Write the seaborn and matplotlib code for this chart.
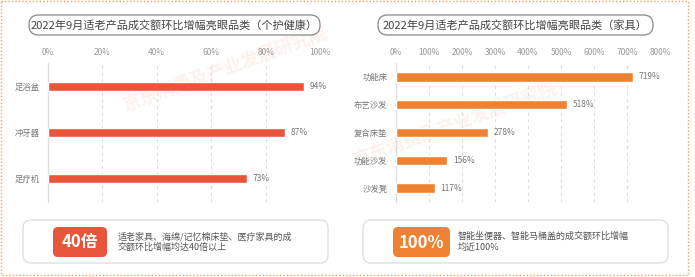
import matplotlib
matplotlib.use('Agg')
import matplotlib.pyplot as plt
import seaborn as sns
import pandas as pd
from matplotlib.patches import FancyBboxPatch, Rectangle

# datos
cat_izq = ['足浴盆', '冲牙器', '足疗机']
val_izq = [94, 87, 73]
cat_der = ['功能床', '布艺沙发', '复合床垫', '功能沙发', '沙发凳']
val_der = [719, 518, 278, 156, 117]

titulo_izq = '2022年9月适老产品成交额环比增幅亮眼品类（个护健康）'
titulo_der = '2022年9月适老产品成交额环比增幅亮眼品类（家具）'
badge_izq = '40倍'
badge_der = '100%'
texto_izq = ['适老家具、海绵/记忆棉床垫、医疗家具的成', '交额环比增幅均达40倍以上']
texto_der = ['智能坐便器、智能马桶盖的成交额环比增幅', '均近100%']

rojo = '#E8553A'
naranja = '#EE8233'

sns.set_theme(style='white')
plt.rcParams['font.family'] = ['Noto Sans CJK SC', 'DejaVu Sans']

W, H = 695, 277
fig = plt.figure(figsize=(W / 100, H / 100), dpi=100)

# capa de fondo en pixeles
fondo = fig.add_axes([0, 0, 1, 1])
fondo.set_xlim(0, W)
fondo.set_ylim(H, 0)
fondo.axis('off')

fondo.add_patch(Rectangle((1, 1), 687, 274, fill=False, ec='#F0A055', lw=1, ls=(0, (1, 1.5))))


def pill(x0, x1, y0, y1, r, **kw):
    fondo.add_patch(FancyBboxPatch((x0 + r, y0 + r), x1 - x0 - 2 * r, y1 - y0 - 2 * r,
                                   boxstyle=f'round,pad={r},rounding_size={r}', **kw))


# titulos en "pildora"
pill(29, 320, 15, 35, 9.5, fc='white', ec='#888888', lw=0.9)
fondo.text(174, 25.5, titulo_izq, ha='center', va='center', fontsize=8, color='#444444')
pill(378, 653, 15, 35, 9.5, fc='white', ec='#888888', lw=0.9)
fondo.text(515, 25.5, titulo_der, ha='center', va='center', fontsize=8, color='#444444')

# marca de agua (muy tenue)
fondo.text(225, 70, '京东消费及产业发展研究院', ha='center', va='center', fontsize=13,
           color='#F8E0D8', rotation=20, alpha=0.45, fontweight='bold', zorder=0)
fondo.text(455, 125, '京东消费及产业发展研究院', ha='center', va='center', fontsize=13,
           color='#F8E0D8', rotation=20, alpha=0.45, fontweight='bold', zorder=0)

# cajas inferiores
pill(23, 328, 220, 263, 8, fc='white', ec='#DDDDDD', lw=0.9)
pill(53, 107, 227, 257, 5, fc=rojo, ec='none')
fondo.text(80, 242.5, badge_izq, ha='center', va='center', fontsize=12, color='white', fontweight='bold')
fondo.text(118, 236.5, texto_izq[0], ha='left', va='center', fontsize=6.5, color='#555555')
fondo.text(118, 247.5, texto_izq[1], ha='left', va='center', fontsize=6.5, color='#555555')

pill(363, 668, 220, 263, 8, fc='white', ec='#DDDDDD', lw=0.9)
pill(393, 450, 227, 257, 5, fc=naranja, ec='none')
fondo.text(421.5, 242.5, badge_der, ha='center', va='center', fontsize=12, color='white', fontweight='bold')
fondo.text(458, 236.5, texto_der[0], ha='left', va='center', fontsize=6.5, color='#555555')
fondo.text(458, 247.5, texto_der[1], ha='left', va='center', fontsize=6.5, color='#555555')


def panel(x0, x1, cats, vals, color, xmax, paso, alto):
    ax = fig.add_axes([x0 / W, 1 - 202 / H, (x1 - x0) / W, (202 - 63) / H])
    ax.patch.set_alpha(0)
    df = pd.DataFrame({'cat': cats, 'val': vals})
    sns.barplot(data=df, x='val', y='cat', orient='h', color=color, width=alto,
                saturation=1, ax=ax, zorder=3)
    ax.set_xlim(0, xmax)
    ax.set_ylim(len(cats) - 0.5, -0.5)
    ticks = list(range(0, xmax + 1, paso))
    ax.set_xticks(ticks)
    ax.set_xticklabels([f'{t}%' for t in ticks])
    ax.xaxis.tick_top()
    ax.tick_params(axis='x', length=0, labelsize=6, labelcolor='#999999', pad=4)
    ax.tick_params(axis='y', length=0, labelsize=6, labelcolor='#777777', pad=6)
    ax.set_xlabel('')
    ax.set_ylabel('')
    for t in ticks[1:]:
        ax.axvline(t, color='#DDDDDD', lw=0.8, ls=(0, (3, 3)), zorder=1)
    for s in ['top', 'right', 'bottom']:
        ax.spines[s].set_visible(False)
    ax.spines['left'].set_color('#DDDDDD')
    ax.spines['left'].set_linewidth(0.9)
    for i, v in enumerate(vals):
        ax.annotate(f'{v}%', (v, i), xytext=(4, 0), textcoords='offset points',
                    ha='left', va='center', fontsize=6, color='#777777')
    return ax


panel(48, 320, cat_izq, val_izq, rojo, 100, 20, 0.2)
panel(396, 660, cat_der, val_der, naranja, 800, 100, 0.34)

fig.savefig('out.png', dpi=100)
